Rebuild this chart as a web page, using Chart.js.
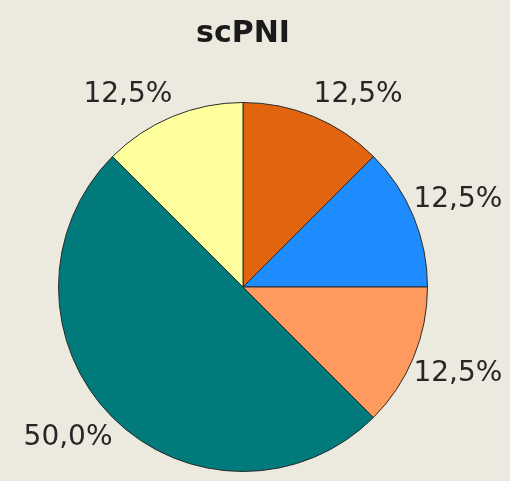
<!DOCTYPE html>
<html>
<head>
<meta charset="utf-8">
<script src="https://cdn.jsdelivr.net/npm/chart.js@4/dist/chart.umd.min.js"></script>
<style>
  html, body { margin: 0; padding: 0; background: #ece9df; }
  #wrap { width: 510px; height: 481px; }
</style>
</head>
<body>
<div id="wrap"><canvas id="PieChart" width="510" height="481"></canvas></div>
<script>
"use strict";

const categories = ["Group A", "Group B", "Group C", "Group D", "Group E"];
const values = [1, 1, 1, 4, 1];
const sliceColors = ["#e2640f", "#1e8cff", "#ff9a5e", "#007a7a", "#ffff9e"];

// percent labels outside each slice, pushed away from the pie by their own box
const outsideLabels = {
    id: "outsideLabels",
    afterDatasetsDraw(chart) {
        const ctx = chart.ctx;
        const meta = chart.getDatasetMeta(0);
        const total = values.reduce((a, b) => a + b, 0);
        ctx.save();
        ctx.font = "28px 'DejaVu Sans'";
        ctx.fillStyle = "#262626";
        ctx.textAlign = "center";
        ctx.textBaseline = "middle";
        meta.data.forEach(function (arc, i) {
            const p = arc.getProps(["x", "y", "startAngle", "endAngle", "outerRadius"], true);
            const mid = (p.startAngle + p.endAngle) / 2;
            const txt = (values[i] / total * 100).toFixed(1).replace(".", ",") + "%";
            const w = ctx.measureText(txt).width;
            const cos = Math.cos(mid), sin = Math.sin(mid);
            const x = p.x + cos * p.outerRadius * 1.0 + Math.sign(cos) * w / 2;
            const y = p.y + sin * p.outerRadius * 1.06 + Math.sign(sin) * 12;
            ctx.fillText(txt, x, y);
        });
        ctx.restore();
    }
};

let pie_chart = new Chart(document.getElementById("PieChart"), {
    type: "pie",
    data: {
        labels: categories,
        datasets: [{
            data: values,
            backgroundColor: sliceColors,
            borderColor: "#2a2a2a",
            borderWidth: 1
        }]
    },
    options: {
        responsive: false,
        animation: false,
        layout: {
            padding: { left: 58, right: 82, top: 0, bottom: 9 }
        },
        plugins: {
            legend: { display: false },
            tooltip: { enabled: false },
            title: {
                display: true,
                text: "scPNI",
                color: "#1a1a1a",
                font: { family: "'DejaVu Sans'", size: 30, weight: "bold", lineHeight: 1.2 },
                padding: { top: 16, bottom: 50 }
            }
        }
    },
    plugins: [outsideLabels]
});
</script>
</body>
</html>
